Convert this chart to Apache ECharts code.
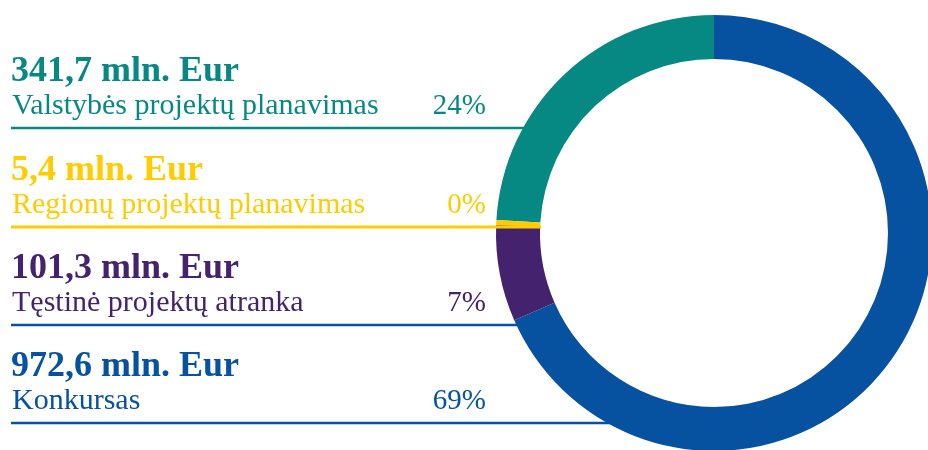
<!DOCTYPE html>
<html>
<head>
<meta charset="utf-8">
<script src="https://cdn.jsdelivr.net/npm/echarts@6/dist/echarts.min.js"></script>
<style>html,body{margin:0;padding:0;background:#fff}#c{width:928px;height:450px}</style>
</head>
<body>
<div id="c"></div>
<script>
const categories = ['Valstybės projektų planavimas', 'Regionų projektų planavimas', 'Tęstinė projektų atranka', 'Konkursas'];
const values = [341.7, 5.4, 101.3, 972.6];
const percentLabels = ['24%', '0%', '7%', '69%'];
const colors = ['#078983', '#FFCC00', '#45226E', '#0652A0'];
const lineColors = ['#078983', '#FFCC00', '#0652A0', '#0652A0'];

const FONT = '"Liberation Serif", "DejaVu Serif", serif';
const rowLineY = [128, 227, 325, 423];
const lineEnd = [560, 541, 560, 700];

function fmt(v) { return v.toFixed(1).replace('.', ',') + ' mln. Eur'; }

const elements = [];
categories.forEach((name, i) => {
  const ly = rowLineY[i];
  elements.push({
    type: 'line', z: i === 1 ? 20 : 1,
    shape: { x1: 11, y1: ly, x2: lineEnd[i], y2: ly },
    style: { stroke: lineColors[i], lineWidth: i === 1 ? 3 : 2.5 }
  });
  elements.push({
    type: 'text', z: 5, x: 11, y: ly - 56,
    style: { text: fmt(values[i]), font: 'bold 36px ' + FONT, fill: colors[i], verticalAlign: 'middle' }
  });
  elements.push({
    type: 'text', z: 5, x: 12, y: ly - 22,
    style: { text: name, font: '30px ' + FONT, fill: colors[i], verticalAlign: 'middle' }
  });
  elements.push({
    type: 'text', z: 5, x: 486, y: ly - 22,
    style: { text: percentLabels[i], font: '29px ' + FONT, fill: colors[i], align: 'right', verticalAlign: 'middle' }
  });
});

const chart = echarts.init(document.getElementById('c'), null, { renderer: 'canvas' });
chart.setOption({
  animation: false,
  series: [{
    type: 'pie',
    z: 10,
    silent: true,
    center: [714, 233],
    radius: [174, 218],
    startAngle: 90,
    clockwise: false,
    avoidLabelOverlap: false,
    label: { show: false },
    labelLine: { show: false },
    itemStyle: { borderWidth: 0 },
    data: categories.map((n, i) => ({ name: n, value: values[i], itemStyle: { color: colors[i] } }))
  }],
  graphic: { elements: elements }
});
</script>
</body>
</html>
